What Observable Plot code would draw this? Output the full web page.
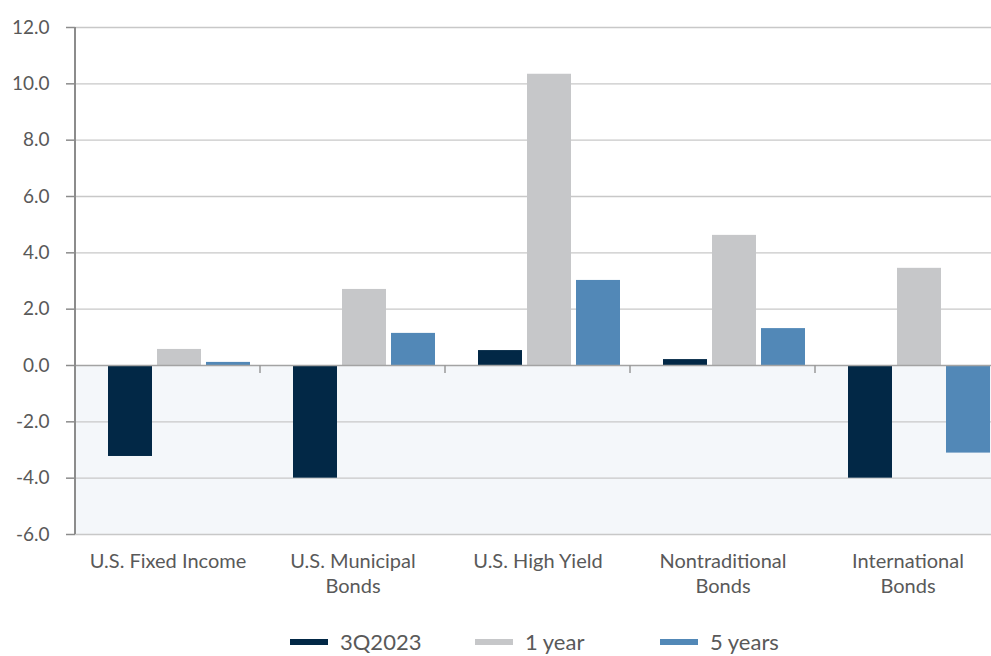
<!DOCTYPE html>
<html><head><meta charset="utf-8">
<script src="https://cdn.jsdelivr.net/npm/d3@7"></script>
<script src="https://cdn.jsdelivr.net/npm/@observablehq/plot@0.6"></script>
<style>
html,body{margin:0;padding:0;background:#fff;overflow:hidden;}
#legend{box-sizing:border-box;height:46px;padding-top:21px;display:flex;align-items:flex-start;padding-left:290px;font-family:Lato, sans-serif;font-size:22px;line-height:22px;color:#595959;}
.item{width:185px;display:flex;align-items:center;height:22px;}
.sw{width:38px;height:6px;margin-right:12px;}
</style></head><body>
<div id="chart"></div>
<div id="legend"></div>
<script>
const categories = ["U.S. Fixed Income","U.S. Municipal\nBonds","U.S. High Yield","Nontraditional\nBonds","International\nBonds"];
const seriesNames = ["3Q2023","1 year","5 years"];
const q3_2023 = [-3.23,-4.0,0.53,0.21,-4.0];
const oneYear = [0.57,2.7,10.34,4.62,3.45];
const fiveYears = [0.11,1.14,3.02,1.31,-3.11];
const seriesColors = ["#022846","#c6c7c9","#5288b7"];
const yTicks = [-6,-4,-2,0,2,4,6,8,10,12];

const seriesValues = [q3_2023, oneYear, fiveYears];
const rows = [];
categories.forEach((c,i)=>seriesNames.forEach((s,j)=>rows.push({category:c, series:s, value:seriesValues[j][i]})));

const W = 991, H = 610;
const plot = Plot.plot({
  width: W, height: H,
  marginTop: 27, marginBottom: 76, marginLeft: 75, marginRight: 0,
  style: {fontFamily: "Lato, sans-serif", fontSize: "19px", color: "#595959", background: "white"},
  fx: {domain: categories, range: [75, 1000], paddingInner: 0, paddingOuter: 0, axis: null},
  x: {domain: seriesNames, range: [107, 251], paddingInner: 0.1, paddingOuter: 0, axis: null},
  y: {domain: [-6, 12], axis: null},
  color: {domain: seriesNames, range: seriesColors},
  marks: [
    Plot.rectY([{lo: yTicks[0], hi: 0}], {y1: "lo", y2: "hi", fill: "#f4f7fa"}),
    Plot.ruleY(yTicks.filter(d => d !== 0), {stroke: "#c8c8c8", strokeWidth: 1.3}),
    Plot.barY(rows, {fx: "category", x: "series", y: "value", fill: "series"}),
    Plot.ruleY([0], {stroke: "#a3a3a3", strokeWidth: 1.6}),
    Plot.axisFx({anchor: "bottom", label: null, tickSize: 0, tickPadding: 16, lineHeight: 1.25, fontSize: 20, fill: "#595959"}),
    Plot.axisY({ticks: yTicks, label: null, tickFormat: d => d.toFixed(1), tickSize: 9, tickPadding: 17, stroke: "#8c8c8c", strokeWidth: 1.5, fontSize: 19, fill: "#595959", facetAnchor: "left"})
  ]
});
document.getElementById("chart").append(plot);

// axis line and category boundary ticks, positioned through Plot's scales
const fx = plot.scale("fx"), y = plot.scale("y");
const svg = d3.select(plot);
const x0 = fx.apply(categories[0]);
svg.append("line").attr("x1", x0).attr("x2", x0).attr("y1", y.apply(yTicks[yTicks.length-1])).attr("y2", y.apply(yTicks[0]))
  .attr("stroke", "#8c8c8c").attr("stroke-width", 2);
categories.slice(1).forEach(c => {
  const bx = fx.apply(c);
  svg.append("line").attr("x1", bx).attr("x2", bx).attr("y1", y.apply(0)).attr("y2", y.apply(0) + 8)
    .attr("stroke", "#9a9a9a").attr("stroke-width", 1.5);
});

const legend = document.getElementById("legend");
seriesNames.forEach((s, i) => {
  const it = document.createElement("div"); it.className = "item";
  const sw = document.createElement("div"); sw.className = "sw"; sw.style.background = seriesColors[i];
  const t = document.createElement("span"); t.textContent = s;
  it.append(sw, t); legend.append(it);
});
</script>
</body></html>
